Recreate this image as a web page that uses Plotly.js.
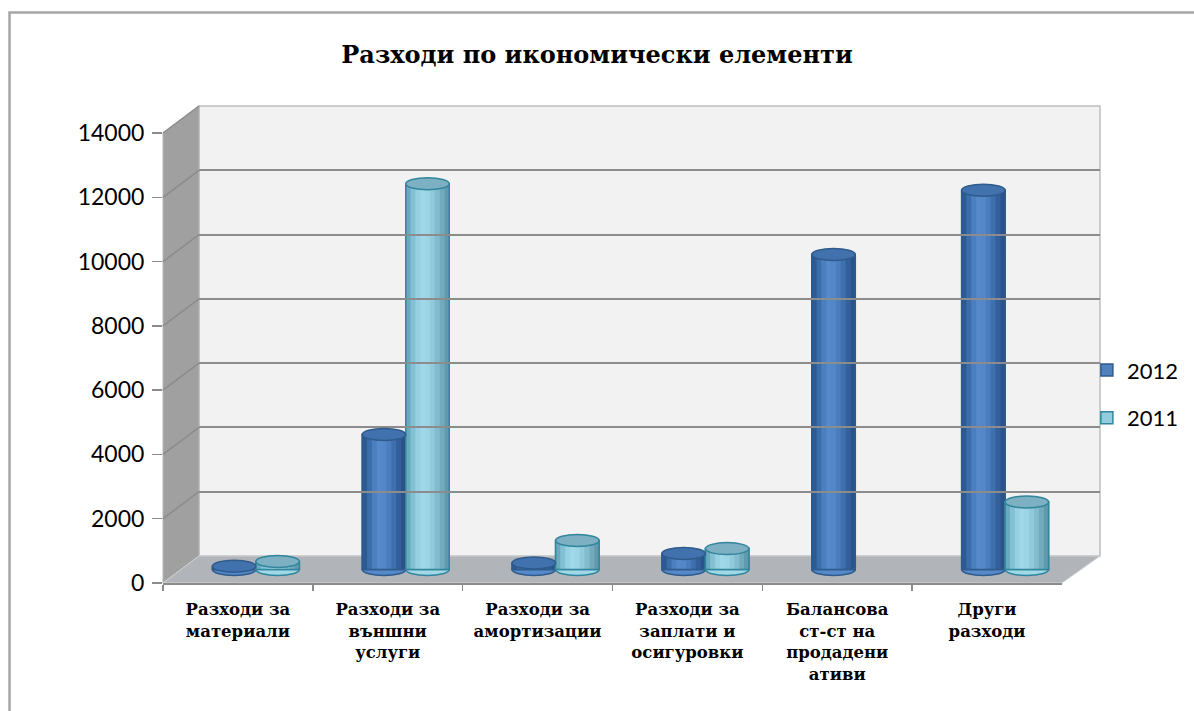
<!DOCTYPE html>
<html>
<head>
<meta charset="utf-8">
<script src="https://cdn.plot.ly/plotly-3.0.1.min.js"></script>
<style>html,body{margin:0;padding:0;background:#fff}#chart{width:1194px;height:711px}</style>
</head>
<body>
<div id="chart"></div>
<script>
// ---- data ----
const categories = ['Разходи за материали', 'Разходи за външни услуги', 'Разходи за амортизации',
  'Разходи за заплати и осигуровки', 'Балансова ст-ст на продадени ативи', 'Други разходи'];
const tickLabels = ['Разходи за<br>материали', 'Разходи за<br>външни<br>услуги', 'Разходи за<br>амортизации',
  'Разходи за<br>заплати и<br>осигуровки', 'Балансова<br>ст-ст на<br>продадени<br>ативи', 'Други<br>разходи'];
const values2012 = [100, 4200, 200, 500, 9800, 11800];
const values2011 = [250, 12000, 900, 650, null, 2100];
const seriesNames = ['2012', '2011'];
const yTicks = [0, 2000, 4000, 6000, 8000, 10000, 12000, 14000];
const yTickText = ['0', '2000', '4000', '6000', '8000', '10000', '12000', '14000'];

// ---- geometry (fractions of plot area) ----
const plotH = 477;
const front = {x: [0, 0.9594], y: [0, 0.9434]};
const back = {x: [0.0384, 1], y: [0.0566, 1]};
const yMax = 14000;
const unitsPerPx = yMax / ((front.y[1] - front.y[0]) * plotH);
const midShiftPx = 13.5;
// the middle (bar) plane: same scale, shifted half-way towards the back wall
const mid = {x: [0.0192, 0.9787], y: [0, 0.9717]};
const midMin = -midShiftPx * unitsPerPx;
const capHalf = 6 * unitsPerPx;

const barW = 0.29;
const styles = [
  {name: seriesNames[0], values: values2012, offset: -barW, base: '#4F81BD', line: '#2F5B8C', cap: '#4272AE',
   grad: ['#2C5A93', '#3B6DAA', '#4A80C0', '#5589CA', '#5387C7', '#4A7DBE', '#3E6FAE', '#335F9A', '#2A5489']},
  {name: seriesNames[1], values: values2011, offset: 0, base: '#93CDDD', line: '#31859C', cap: '#7DB0C2',
   grad: ['#6AA9BE', '#82C0D4', '#96D0E2', '#A0D8E8', '#9CD5E5', '#90CADB', '#82BCCE', '#73ABBE', '#6399AC']}
];

const traces = [];
const shapes = [];
styles.forEach((s, si) => {
  traces.push({type: 'bar', x: categories, y: s.values, name: s.name, legendgroup: s.name,
    offset: s.offset, width: barW, xaxis: 'x', yaxis: 'y',
    marker: {color: s.base, line: {color: s.line, width: 1.5}}, hoverinfo: 'x+y+name'});
  const n = s.grad.length;
  s.grad.forEach((c, k) => {
    traces.push({type: 'bar', x: categories, y: s.values, legendgroup: s.name, showlegend: false,
      offset: s.offset + barW * k / n, width: barW / n + 0.002, xaxis: 'x', yaxis: 'y',
      marker: {color: c, line: {width: 0}}, hoverinfo: 'skip'});
  });
  traces.push({type: 'bar', x: categories, y: s.values, legendgroup: s.name, showlegend: false,
    offset: s.offset, width: barW, xaxis: 'x', yaxis: 'y',
    marker: {color: 'rgba(0,0,0,0)', line: {color: s.line, width: 1.5}}, hoverinfo: 'skip'});
  // cylinder bottoms and caps
  s.values.forEach((v, i) => {
    if (v === null) return;
    const x0 = i + s.offset, x1 = i + s.offset + barW;
    shapes.push({type: 'circle', xref: 'x', yref: 'y', layer: 'below', x0: x0, x1: x1,
      y0: -capHalf, y1: capHalf, fillcolor: s.grad[3], line: {color: s.line, width: 1.5}});
    shapes.push({type: 'circle', xref: 'x', yref: 'y', layer: 'above', x0: x0, x1: x1,
      y0: v - capHalf, y1: v + capHalf, fillcolor: s.cap, line: {color: s.line, width: 1.5}});
  });
});
// helper traces so the back and front axes exist
traces.push({type: 'scatter', mode: 'lines', x: categories, y: categories.map(() => null),
  xaxis: 'x2', yaxis: 'y2', showlegend: false, hoverinfo: 'skip'});
traces.push({type: 'scatter', mode: 'lines', x: categories, y: categories.map(() => null),
  xaxis: 'x3', yaxis: 'y3', showlegend: false, hoverinfo: 'skip'});

const fy = v => v / yMax * (front.y[1] - front.y[0]);
const wallShapes = [
  // outer frame
  {type: 'rect', xref: 'paper', yref: 'paper', x0: -0.1638, x1: 1.3, y0: -0.5, y1: 1.196,
   line: {color: '#A6A6A6', width: 2.5}, fillcolor: 'rgba(0,0,0,0)', layer: 'below'},
  // back wall
  {type: 'rect', xref: 'paper', yref: 'paper', x0: back.x[0], x1: back.x[1], y0: back.y[0], y1: back.y[1],
   line: {color: '#BFBFBF', width: 1.5}, fillcolor: '#F2F2F2', layer: 'below'},
  // side wall
  {type: 'path', xref: 'paper', yref: 'paper', layer: 'below',
   path: `M 0 0 L ${back.x[0]} ${back.y[0]} L ${back.x[0]} ${back.y[1]} L 0 ${front.y[1]} Z`,
   fillcolor: '#A0A0A0', line: {color: '#B5B5B5', width: 1}},
  // floor
  {type: 'path', xref: 'paper', yref: 'paper', layer: 'below',
   path: `M 0 0 L ${front.x[1]} 0 L ${back.x[1]} ${back.y[0]} L ${back.x[0]} ${back.y[0]} Z`,
   fillcolor: '#B1B4B8', line: {color: '#D0D2D4', width: 1}}
];
yTicks.forEach(v => {
  if (v === 0) return;
  wallShapes.push({type: 'line', xref: 'paper', yref: 'paper', layer: 'below',
    x0: 0, y0: front.y[0] + fy(v), x1: back.x[0], y1: back.y[0] + fy(v),
    line: {color: '#8C8C8C', width: 1.5}});
});

const layout = {
  width: 1194, height: 711,
  margin: {l: 163, r: 94, t: 106, b: 128, autoexpand: false},
  paper_bgcolor: '#FFFFFF', plot_bgcolor: 'rgba(0,0,0,0)',
  barmode: 'overlay',
  title: {text: 'Разходи по икономически елементи', x: 0.5, xref: 'container', xanchor: 'center',
    y: 1 - 55 / 711, yref: 'container', yanchor: 'middle',
    font: {family: 'DejaVu Serif', size: 24, weight: 'bold', color: '#000'}},
  xaxis: {domain: mid.x, anchor: 'y', type: 'category', range: [-0.5, 5.5], visible: false, fixedrange: true},
  yaxis: {domain: mid.y, anchor: 'x', range: [midMin, yMax], visible: false, fixedrange: true},
  xaxis2: {domain: back.x, anchor: 'y2', type: 'category', range: [-0.5, 5.5], showgrid: false,
    showticklabels: false, ticks: '', showline: false, zeroline: false},
  yaxis2: {domain: back.y, anchor: 'x2', range: [0, yMax], tickvals: yTicks, showgrid: true,
    gridcolor: '#8C8C8C', gridwidth: 2, showticklabels: false, ticks: '', zeroline: false, showline: false},
  xaxis3: {domain: front.x, anchor: 'y3', type: 'category', range: [-0.5, 5.5],
    tickvals: categories, ticktext: tickLabels, tickson: 'boundaries', ticks: 'outside', ticklen: 6,
    tickcolor: '#8C8C8C', tickwidth: 1.5, showline: true, linecolor: '#8C8C8C', linewidth: 1.5,
    showgrid: false, zeroline: false, ticklabelstandoff: 11,
    tickfont: {family: 'DejaVu Serif', size: 16.5, weight: 'bold', color: '#000'}},
  yaxis3: {domain: front.y, anchor: 'x3', range: [0, yMax], tickvals: yTicks, ticktext: yTickText,
    ticks: 'outside', ticklen: 10, tickcolor: '#8C8C8C', tickwidth: 1.5, showgrid: false, zeroline: false,
    showline: false, ticklabelstandoff: 3, tickfont: {family: 'Lato, sans-serif', size: 23, color: '#000'}},
  legend: {x: 0.986, xanchor: 'left', y: 0.49, yanchor: 'top', traceorder: 'grouped', tracegroupgap: 16,
    font: {family: 'Lato, sans-serif', size: 22, color: '#000'}, bgcolor: 'rgba(0,0,0,0)', itemwidth: 30},
  shapes: wallShapes.concat(shapes),
  showlegend: true
};

Plotly.newPlot('chart', traces, layout, {displayModeBar: false, staticPlot: true});
</script>
</body>
</html>
